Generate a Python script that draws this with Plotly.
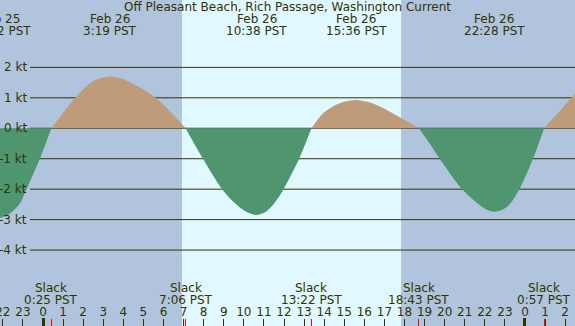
import plotly.graph_objects as go

# ---- colours / fonts ----
NIGHT = "#b0c4de"
DAY = "#e0f8ff"
FLOOD = "#c09b7a"
EBB = "#4f9670"
INK = "#333300"
FONT = "DejaVu Sans"

# ---- data (hours after midnight Feb 26, PST) ----
title = "Off Pleasant Beach, Rich Passage, Washington Current"

hour_ticks = list(range(-2, 27))
hour_labels = [str(h % 24) for h in hour_ticks]
midnights = [0, 24]

sunrise = 6.92
sunset = 17.83

speed_ticks = [2, 1, 0, -1, -2, -3, -4]
speed_labels = [f"{v} kt" for v in speed_ticks]

slack_hours = [0.417, 7.1, 13.367, 18.717, 24.95]
slack_labels = ["0:25 PST", "7:06 PST", "13:22 PST", "18:43 PST", "0:57 PST"]

max_hours = [-2.133, 3.317, 10.633, 15.6, 22.467]
max_dates = ["Feb 25", "Feb 26", "Feb 26", "Feb 26", "Feb 26"]
max_labels = ["21:52 PST", "3:19 PST", "10:38 PST", "15:36 PST", "22:28 PST"]

# current speed, one list pair per flood/ebb lobe
ebb1_h = [-2.14, -1.65, -1.15, -0.8, -0.15, 0.417]
ebb1_v = [-2.95, -2.8, -2.47, -1.97, -0.99, 0.0]
flood1_h = [0.417, 1.0, 1.59, 2.34, 2.8, 3.317, 3.9, 4.5, 5.08, 5.66, 6.4, 7.1]
flood1_v = [0.0, 0.5, 0.99, 1.48, 1.63, 1.7, 1.63, 1.45, 1.24, 0.98, 0.5, 0.0]
ebb2_h = [7.1, 7.98, 8.9, 9.3, 9.73, 10.2, 10.633, 11.05, 11.47, 11.89, 12.3, 12.76, 13.367]
ebb2_v = [0.0, -1.02, -1.99, -2.3, -2.56, -2.77, -2.85, -2.76, -2.5, -2.1, -1.6, -0.99, 0.0]
flood2_h = [13.367, 13.96, 14.62, 15.1, 15.6, 16.2, 16.82, 17.28, 17.87, 18.717]
flood2_v = [0.0, 0.5, 0.78, 0.89, 0.93, 0.86, 0.7, 0.54, 0.32, 0.0]
ebb3_h = [18.717, 19.27, 19.77, 20.85, 21.6, 22.0, 22.467, 22.9, 23.26, 23.76, 24.42, 24.95]
ebb3_v = [0.0, -0.52, -1.02, -1.99, -2.45, -2.64, -2.74, -2.67, -2.48, -1.95, -0.97, 0.0]
flood3_h = [24.95, 25.4, 25.75, 26.49]
flood3_v = [0.0, 0.33, 0.58, 1.15]

X_RANGE = [-2.141, 26.49]
Y_RANGE = [-6.494, 4.212]
W, H = 575, 326

fig = go.Figure()

lobes = [
    (ebb1_h, ebb1_v, EBB), (flood1_h, flood1_v, FLOOD),
    (ebb2_h, ebb2_v, EBB), (flood2_h, flood2_v, FLOOD),
    (ebb3_h, ebb3_v, EBB), (flood3_h, flood3_v, FLOOD),
]
for hx, vy, col in lobes:
    fig.add_trace(go.Scatter(
        x=hx, y=vy, mode="lines",
        line=dict(width=0, shape="spline", smoothing=0.8, color=col),
        fill="tozeroy", fillcolor=col, hoverinfo="skip"))

# dummy traces to carry the overlay tick axes
fig.add_trace(go.Scatter(x=midnights, y=[0] * len(midnights), xaxis="x2",
                         mode="markers", marker=dict(opacity=0), hoverinfo="skip"))
fig.add_trace(go.Scatter(x=slack_hours, y=[0] * len(slack_hours), xaxis="x3",
                         mode="markers", marker=dict(opacity=0), hoverinfo="skip"))

shapes = [dict(type="rect", xref="x", yref="paper", x0=sunrise, x1=sunset,
               y0=0, y1=1, fillcolor=DAY, line=dict(width=0), layer="below")]
for v in speed_ticks:
    shapes.append(dict(type="line", xref="paper", yref="y", x0=30 / W, x1=1,
                       y0=v, y1=v, line=dict(color=INK, width=1), layer="below"))

f = dict(family=FONT, size=12, color=INK)
ann = [dict(text=title, xref="paper", yref="paper", x=0.5, y=1 - 7.5 / H,
            xanchor="center", yanchor="middle", showarrow=False, font=f)]
for t, lab in zip(speed_ticks, speed_labels):
    ann.append(dict(text=lab, xref="paper", yref="y", x=29 / W, y=t,
                    xanchor="right", yanchor="middle", showarrow=False, font=f))
for h, d, lab in zip(max_hours, max_dates, max_labels):
    ann.append(dict(text=d, xref="x", yref="paper", x=h, y=1 - 19.5 / H,
                    xanchor="center", yanchor="middle", showarrow=False, font=f))
    ann.append(dict(text=lab, xref="x", yref="paper", x=h, y=1 - 31.2 / H,
                    xanchor="center", yanchor="middle", showarrow=False, font=f))
for h, lab in zip(slack_hours, slack_labels):
    ann.append(dict(text="Slack", xref="x", yref="paper", x=h, y=1 - 287.5 / H,
                    xanchor="center", yanchor="middle", showarrow=False, font=f))
    ann.append(dict(text=lab, xref="x", yref="paper", x=h, y=1 - 299.5 / H,
                    xanchor="center", yanchor="middle", showarrow=False, font=f))

common = dict(range=X_RANGE, showgrid=False, zeroline=False, showline=False,
              automargin=False, fixedrange=True)
fig.update_layout(
    width=W, height=H, margin=dict(l=0, r=0, t=0, b=0, pad=0, autoexpand=False),
    paper_bgcolor=NIGHT, plot_bgcolor=NIGHT, showlegend=False,
    xaxis=dict(tickmode="array", tickvals=hour_ticks, ticktext=hour_labels,
               ticks="inside", ticklen=7, tickwidth=1, tickcolor=INK,
               ticklabelposition="inside", ticklabeloverflow="allow",
               tickfont=f, **common),
    xaxis2=dict(overlaying="x", anchor="y", side="bottom",
                tickmode="array", tickvals=midnights, ticks="inside", ticklen=8,
                tickwidth=3, tickcolor=INK, showticklabels=False, **common),
    xaxis3=dict(overlaying="x", anchor="y", side="bottom",
                tickmode="array", tickvals=slack_hours, ticks="inside", ticklen=7,
                tickwidth=1, tickcolor="#ff0000", showticklabels=False, **common),
    yaxis=dict(range=Y_RANGE, visible=False, fixedrange=True, automargin=False),
    shapes=shapes, annotations=ann,
)

fig.write_html(
    "out.html",
    config={"displayModeBar": False, "staticPlot": True},
    post_script="document.body.style.margin='0';document.body.style.overflow='hidden';",
)
